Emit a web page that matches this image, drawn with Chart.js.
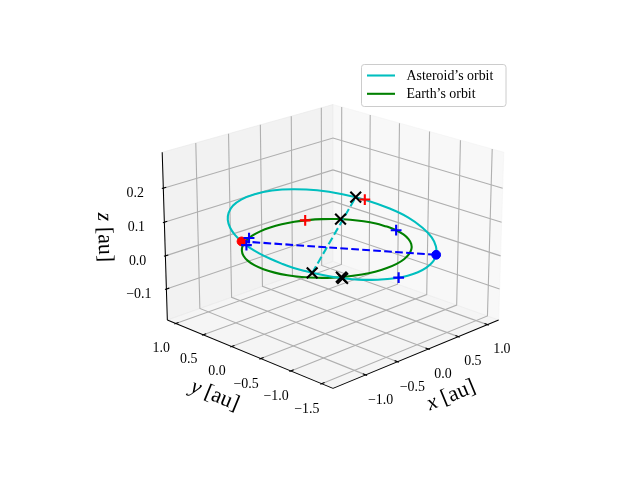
<!DOCTYPE html>
<html><head><meta charset="utf-8">
<script src="https://cdn.jsdelivr.net/npm/chart.js@4/dist/chart.umd.min.js"></script>
<style>html,body{margin:0;padding:0;background:#fff;}canvas{display:block;}</style>
</head><body>
<canvas id="c" width="640" height="480"></canvas>
<script>
// ---------------- data (astronomical units) ----------------
const xTicks = [-1.0, -0.5, 0.0, 0.5, 1.0];
const yTicks = [-1.5, -1.0, -0.5, 0.0, 0.5, 1.0];
const zTicks = [-0.1, 0.0, 0.1, 0.2];
const xLim = [-1.444, 1.144];
const yLim = [-1.622, 1.099];
const zLim = [-0.184, 0.294];

const earthX = [1, 0.985, 0.940, 0.866, 0.766, 0.643, 0.5, 0.342, 0.174, 0, -0.174, -0.342, -0.5, -0.643, -0.766, -0.866, -0.940, -0.985,
                -1, -0.985, -0.940, -0.866, -0.766, -0.643, -0.5, -0.342, -0.174, 0, 0.174, 0.342, 0.5, 0.643, 0.766, 0.866, 0.940, 0.985];
const earthY = [0, 0.174, 0.342, 0.5, 0.643, 0.766, 0.866, 0.940, 0.985, 1, 0.985, 0.940, 0.866, 0.766, 0.643, 0.5, 0.342, 0.174,
                0, -0.174, -0.342, -0.5, -0.643, -0.766, -0.866, -0.940, -0.985, -1, -0.985, -0.940, -0.866, -0.766, -0.643, -0.5, -0.342, -0.174];
const earthPlaneZ = 0;

const asteroidX = [0.706, 0.530, 0.319, 0.077, -0.185, -0.453, -0.711, -0.941, -1.131, -1.270, -1.352, -1.378,
                   -1.353, -1.284, -1.179, -1.047, -0.896, -0.733, -0.562, -0.389, -0.217, -0.049, 0.113, 0.268,
                   0.413, 0.548, 0.670, 0.778, 0.870, 0.944, 0.998, 1.027, 1.030, 1.003, 0.941, 0.843];
const asteroidY = [-1.109, -1.269, -1.398, -1.482, -1.513, -1.484, -1.392, -1.242, -1.043, -0.809, -0.555, -0.297,
                   -0.048, 0.181, 0.384, 0.556, 0.696, 0.805, 0.883, 0.931, 0.953, 0.951, 0.925, 0.877,
                   0.809, 0.722, 0.618, 0.495, 0.357, 0.203, 0.035, -0.145, -0.335, -0.532, -0.731, -0.926];
const asteroidZ = [0, 0.046, 0.094, 0.142, 0.189, 0.229, 0.262, 0.284, 0.295, 0.293, 0.280, 0.257,
                   0.227, 0.192, 0.153, 0.114, 0.074, 0.036, 0, -0.034, -0.064, -0.091, -0.115, -0.136,
                   -0.152, -0.165, -0.174, -0.179, -0.180, -0.176, -0.167, -0.153, -0.134, -0.109, -0.078, -0.042];

// line of nodes (red node, blue node)
const nodeX = [-0.562, 0.706];
const nodeY = [0.883, -1.109];
const nodeZ = [0, 0];
// line of apsides (perihelion, aphelion)
const apsisX = [0.478, -0.823];
const apsisY = [0.771, -1.328];
const apsisZ = [-0.159, 0.274];
// black x markers
const blackX = [0.478, -0.823, 0.799, -0.559, 0.757];
const blackY = [0.771, -1.328, 0.602, -0.829, 0.521];
const blackZ = [-0.159, 0.274, 0, 0, -0.179];
// red + markers
const redX = [0.469, -0.735];
const redY = [0.883, -1.380];
const redZ = [0, 0.265];
// blue + markers
const blueX = [-0.423, -0.458, 0.985, 1.030];
const blueY = [0.906, 0.915, -0.174, -0.182];
const blueZ = [0, -0.020, 0, -0.150];

// ---------------- 3-D view (matplotlib style) ----------------
const ELEV = 20, AZIM = -135, DIST = 10;
const SC = 1.8294640721620434 / Math.sqrt(41);
const BOX = [4 * SC, 4 * SC, 3 * SC];
const el = ELEV * Math.PI / 180, az = AZIM * Math.PI / 180;
const W = [Math.cos(el) * Math.cos(az), Math.cos(el) * Math.sin(az), Math.sin(el)];
const U = [-Math.sin(az), Math.cos(az), 0];
const V = [W[1]*U[2]-W[2]*U[1], W[2]*U[0]-W[0]*U[2], W[0]*U[1]-W[1]*U[0]];
function proj(x, y, z) {
  const d = [(x - xLim[0]) / (xLim[1] - xLim[0]) * BOX[0] - BOX[0] / 2,
             (y - yLim[0]) / (yLim[1] - yLim[0]) * BOX[1] - BOX[1] / 2,
             (z - zLim[0]) / (zLim[1] - zLim[0]) * BOX[2] - BOX[2] / 2];
  const ud = U[0]*d[0] + U[1]*d[1] + U[2]*d[2];
  const vd = V[0]*d[0] + V[1]*d[1] + V[2]*d[2];
  const wd = W[0]*d[0] + W[1]*d[1] + W[2]*d[2];
  const den = DIST - wd;
  return { x: ud / den, y: vd / den };
}
function pts(xs, ys, zs) {
  return xs.map((x, i) => proj(x, ys[i], Array.isArray(zs) ? zs[i] : zs));
}
function closed(arr) { return arr.concat([arr[0]]); }

const padL = l => [l[0] - (l[1] - l[0]) / 48, l[1] + (l[1] - l[0]) / 48];
const XP = padL(xLim), YP = padL(yLim), ZP = padL(zLim);
const DX = (xLim[1] - xLim[0]) / 12, DY = (yLim[1] - yLim[0]) / 12, DZ = (zLim[1] - zLim[0]) / 12;
const XC = (xLim[0] + xLim[1]) / 2, YC = (yLim[0] + yLim[1]) / 2, ZC = (zLim[0] + zLim[1]) / 2;

const SERIF = '"Liberation Serif", "Times New Roman", serif';
const TICK_FS = 13.9, LABEL_FS = 22, LEG_FS = 13.9;
const LW = 2.08;

const axesPlugin = {
  id: 'axes3d',
  beforeDatasetsDraw(chart) {
    const ctx = chart.ctx, sx = chart.scales.x, sy = chart.scales.y;
    const P = (x, y, z) => { const s = proj(x, y, z); return [sx.getPixelForValue(s.x), sy.getPixelForValue(s.y)]; };
    const poly = (list, fill, stroke, lw, close) => {
      ctx.beginPath();
      list.forEach((p, i) => { const q = P(p[0], p[1], p[2]); if (i) ctx.lineTo(q[0], q[1]); else ctx.moveTo(q[0], q[1]); });
      if (close) ctx.closePath();
      if (fill) { ctx.fillStyle = fill; ctx.fill(); }
      if (stroke) { ctx.strokeStyle = stroke; ctx.lineWidth = lw; ctx.stroke(); }
    };
    ctx.save();
    const [x0, x1] = XP, [y0, y1] = YP, [z0, z1] = ZP;
    // panes
    poly([[x0,y1,z0],[x1,y1,z0],[x1,y1,z1],[x0,y1,z1]], 'rgba(230,230,230,0.5)', 'rgba(230,230,230,0.5)', 1, true);
    poly([[x1,y0,z0],[x1,y1,z0],[x1,y1,z1],[x1,y0,z1]], 'rgba(242,242,242,0.5)', 'rgba(242,242,242,0.5)', 1, true);
    poly([[x0,y0,z0],[x1,y0,z0],[x1,y1,z0],[x0,y1,z0]], 'rgba(236,236,236,0.5)', 'rgba(236,236,236,0.5)', 1, true);
    // grid
    ctx.lineJoin = 'miter';
    xTicks.forEach(t => poly([[t,y0,z0],[t,y1,z0],[t,y1,z1]], null, '#b0b0b0', 1.1));
    yTicks.forEach(t => poly([[x0,t,z0],[x1,t,z0],[x1,t,z1]], null, '#b0b0b0', 1.1));
    zTicks.forEach(t => poly([[x0,y1,t],[x1,y1,t],[x1,y0,t]], null, '#b0b0b0', 1.1));
    // axis lines
    poly([[x0,y0,z0],[x1,y0,z0]], null, '#000', 1.04);
    poly([[x0,y0,z0],[x0,y1,z0]], null, '#000', 1.04);
    poly([[x0,y1,z0],[x0,y1,z1]], null, '#000', 1.04);
    // tick marks
    xTicks.forEach(t => poly([[t,y0-0.1*DY,z0],[t,y0+0.2*DY,z0]], null, '#000', 1.1));
    yTicks.forEach(t => poly([[x0-0.1*DX,t,z0],[x0+0.2*DX,t,z0]], null, '#000', 1.1));
    zTicks.forEach(t => poly([[x0-0.1*DX,y1,t],[x0+0.2*DX,y1,t]], null, '#000', 1.1));
    // tick labels (ha=center, va=top)
    const fmt = v => (v < 0 ? '\u2212' : '') + Math.abs(v).toFixed(1);
    ctx.fillStyle = '#000';
    ctx.font = TICK_FS + 'px ' + SERIF;
    ctx.textAlign = 'center';
    ctx.textBaseline = 'alphabetic';
    const k = 1.0372;
    const tl = (txt, p) => ctx.fillText(txt, p[0], p[1] + 0.66 * TICK_FS);
    xTicks.forEach(t => tl(fmt(t), P(t, y0 - k*DY, z0 - k*DZ)));
    yTicks.forEach(t => tl(fmt(t), P(x0 - k*DX, t, z0 - k*DZ)));
    zTicks.forEach(t => tl(fmt(t), P(x0 - k*DX, y1 + k*DY, t)));
    // axis labels
    const L = 2.2548;
    const angleOf = (a, b) => {
      let ang = Math.atan2(-(b[1] - a[1]), b[0] - a[0]) * 180 / Math.PI;
      ang = ((ang + 180) % 180 + 180) % 180; if (ang > 90) ang -= 180; return ang;
    };
    const axLabel = (sym, p, ang) => {
      ctx.save();
      ctx.translate(p[0], p[1]);
      ctx.rotate(-ang * Math.PI / 180);
      const fi = 'italic ' + LABEL_FS + 'px ' + SERIF, fr = LABEL_FS + 'px ' + SERIF;
      ctx.font = fi; const w1 = ctx.measureText(sym).width;
      ctx.font = fr; const w2 = ctx.measureText(' [au]').width;
      const wt = w1 + w2; const by = 0.25 * LABEL_FS;
      ctx.textAlign = 'left';
      ctx.font = fi; ctx.fillText(sym, -wt / 2, by);
      ctx.font = fr; ctx.fillText(' [au]', -wt / 2 + w1, by);
      ctx.restore();
    };
    axLabel('x', P(XC, y0 - L*DY, z0 - L*DZ), angleOf(P(x0,y0,z0), P(x1,y0,z0)));
    axLabel('y', P(x0 - L*DX, YC, z0 - L*DZ), angleOf(P(x0,y0,z0), P(x0,y1,z0)));
    axLabel('z', P(x0 - L*DX, y1 + L*DY, ZC), angleOf(P(x0,y1,z0), P(x0,y1,z1)));
    ctx.restore();
  }
};

const legendPlugin = {
  id: 'mplLegend',
  afterDraw(chart) {
    const ctx = chart.ctx;
    const items = chart.data.datasets.filter(d => d.legendRank !== undefined)
                       .sort((a, b) => a.legendRank - b.legendRank);
    ctx.save();
    const bx = 361.5, by = 64.5, bw = 144.5, bh = 42, r = 2.8;
    ctx.beginPath();
    ctx.moveTo(bx + r, by); ctx.lineTo(bx + bw - r, by); ctx.quadraticCurveTo(bx + bw, by, bx + bw, by + r);
    ctx.lineTo(bx + bw, by + bh - r); ctx.quadraticCurveTo(bx + bw, by + bh, bx + bw - r, by + bh);
    ctx.lineTo(bx + r, by + bh); ctx.quadraticCurveTo(bx, by + bh, bx, by + bh - r);
    ctx.lineTo(bx, by + r); ctx.quadraticCurveTo(bx, by, bx + r, by);
    ctx.closePath();
    ctx.fillStyle = 'rgba(255,255,255,0.8)'; ctx.fill();
    ctx.strokeStyle = '#cccccc'; ctx.lineWidth = 1; ctx.stroke();
    ctx.font = LEG_FS + 'px ' + SERIF;
    ctx.textAlign = 'left'; ctx.textBaseline = 'alphabetic';
    items.forEach((d, i) => {
      const yy = 75.5 + i * 18.3;
      ctx.strokeStyle = d.borderColor; ctx.lineWidth = LW;
      ctx.beginPath(); ctx.moveTo(367, yy); ctx.lineTo(395, yy); ctx.stroke();
      ctx.fillStyle = '#000';
      ctx.fillText(d.label, 406.5, yy + 4.5);
    });
    ctx.restore();
  }
};

const layers = [
  { label: 'Earth\u2019s orbit', legendRank: 1, data: closed(pts(earthX, earthY, earthPlaneZ)),
    showLine: true, borderColor: '#008000', borderWidth: LW, pointRadius: 0, tension: 0.4, fill: false },
  { label: 'Asteroid\u2019s orbit', legendRank: 0, data: closed(pts(asteroidX, asteroidY, asteroidZ)),
    showLine: true, borderColor: '#00bfbf', borderWidth: LW, pointRadius: 0, tension: 0.4, fill: false },
  { label: 'apsides', data: pts(apsisX, apsisY, apsisZ), showLine: true, borderColor: '#00bfbf',
    borderWidth: LW, borderDash: [7.7, 3.3], pointRadius: 0, tension: 0 },
  { label: 'nodes line', data: pts(nodeX, nodeY, nodeZ), showLine: true, borderColor: '#0000ff',
    borderWidth: LW, borderDash: [7.7, 3.3], pointRadius: 0, tension: 0 },
  { label: 'nodes', data: pts(nodeX, nodeY, nodeZ), showLine: false, pointStyle: 'circle', pointRadius: 4.4,
    pointBackgroundColor: ['#ff0000', '#0000ff'], pointBorderColor: ['#ff0000', '#0000ff'], pointBorderWidth: 1 },
  { label: 'x marks', data: pts(blackX, blackY, blackZ), showLine: false, pointStyle: 'crossRot', pointRadius: 7.6,
    pointBorderColor: '#000', pointBorderWidth: 2.1 },
  { label: 'red marks', data: pts(redX, redY, redZ), showLine: false, pointStyle: 'cross', pointRadius: 5.4,
    pointBorderColor: '#ff0000', pointBorderWidth: 2.1 },
  { label: 'blue marks', data: pts(blueX, blueY, blueZ), showLine: false, pointStyle: 'cross', pointRadius: 5.4,
    pointBorderColor: '#0000ff', pointBorderWidth: 2.1 }
];
layers.forEach((d, i) => { d.order = layers.length - i; d.clip = false; });

new Chart(document.getElementById('c'), {
  type: 'scatter',
  data: { datasets: layers },
  options: {
    responsive: false, animation: false, events: [],
    layout: { padding: { left: 143.2, right: 127.2, top: 57.6, bottom: 52.8 } },
    scales: {
      x: { type: 'linear', min: -0.095, max: 0.09, display: false },
      y: { type: 'linear', min: -0.095, max: 0.09, display: false }
    },
    plugins: { legend: { display: false }, tooltip: { enabled: false } }
  },
  plugins: [axesPlugin, legendPlugin]
});
</script>
</body></html>
